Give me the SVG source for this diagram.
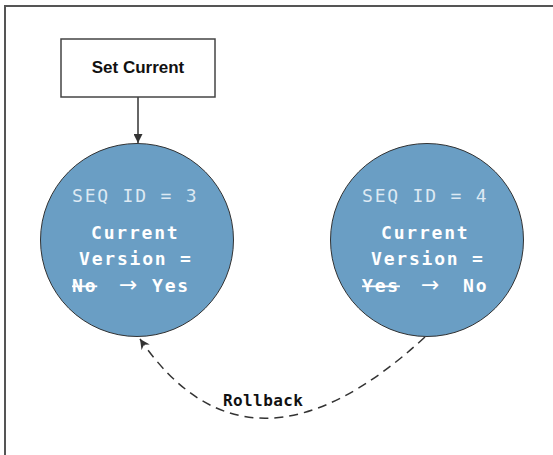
<svg xmlns="http://www.w3.org/2000/svg" width="553" height="455" viewBox="0 0 553 455">
<defs>
<marker id="arr" viewBox="0 0 10 10" refX="10" refY="5" markerWidth="9" markerHeight="9" markerUnits="userSpaceOnUse" orient="auto">
<path d="M0,0 L10,5 L0,10 z" fill="#333"/>
</marker>
<marker id="arr2" viewBox="0 0 10 10" refX="10" refY="5" markerWidth="10" markerHeight="10" markerUnits="userSpaceOnUse" orient="auto">
<path d="M0,0 L10,5 L0,10 L3,5 z" fill="#333"/>
</marker>
</defs>
<style>
.frame{fill:#fff;stroke:#555;stroke-width:2}
.box{fill:#fff;stroke:#444;stroke-width:1.5}
.circ{fill:#6a9ec4;stroke:#333;stroke-width:1}
.lbl{font-family:"Liberation Sans",Arial,sans-serif;font-weight:bold;font-size:17px;fill:#111}
.mono{font-family:"DejaVu Sans Mono","Liberation Mono",monospace;font-size:18px;letter-spacing:1.8px}
.seq{fill:#dde9f3}
.bold{font-weight:bold;fill:#fff}
.arrow{font-family:"DejaVu Sans",sans-serif;font-size:22px;fill:#fff}
.strike{text-decoration:line-through}
.edge{fill:none;stroke:#333;stroke-width:1.5}
.dash{stroke-dasharray:9 6}
.elbl{font-family:"DejaVu Sans Mono","Liberation Mono",monospace;font-weight:bold;font-size:16px;letter-spacing:0.4px;fill:#111}
</style>
<rect class="frame" x="5" y="6" width="560" height="460"/>
<g id="connectors">
<line class="edge" x1="138" y1="97" x2="138" y2="143" marker-end="url(#arr)"/>
<path class="edge dash" d="M425,337 Q249.5,498.5 140,339" marker-end="url(#arr2)"/>
<text class="elbl" x="223" y="406">Rollback</text>
</g>
<g id="set-current">
<rect class="box" x="61" y="39" width="154" height="58"/>
<text class="lbl" x="138" y="73" text-anchor="middle">Set Current</text>
</g>
<g id="seq3">
<circle class="circ" cx="137" cy="240" r="96.5"/>
<text class="mono seq" x="72" y="202">SEQ ID = 3</text>
<text class="mono bold" x="91" y="239">Current</text>
<text class="mono bold" x="79" y="265">Version =</text>
<text class="mono bold strike" x="72" y="292">No</text>
<text class="arrow" x="119" y="292">→</text>
<text class="mono bold" x="152" y="292">Yes</text>
</g>
<g id="seq4">
<circle class="circ" cx="427" cy="240" r="96.5"/>
<text class="mono seq" x="362" y="202">SEQ ID = 4</text>
<text class="mono bold" x="381" y="239">Current</text>
<text class="mono bold" x="371" y="265">Version =</text>
<text class="mono bold strike" x="362" y="292">Yes</text>
<text class="arrow" x="421" y="292">→</text>
<text class="mono bold" x="463" y="292">No</text>
</g>
</svg>
